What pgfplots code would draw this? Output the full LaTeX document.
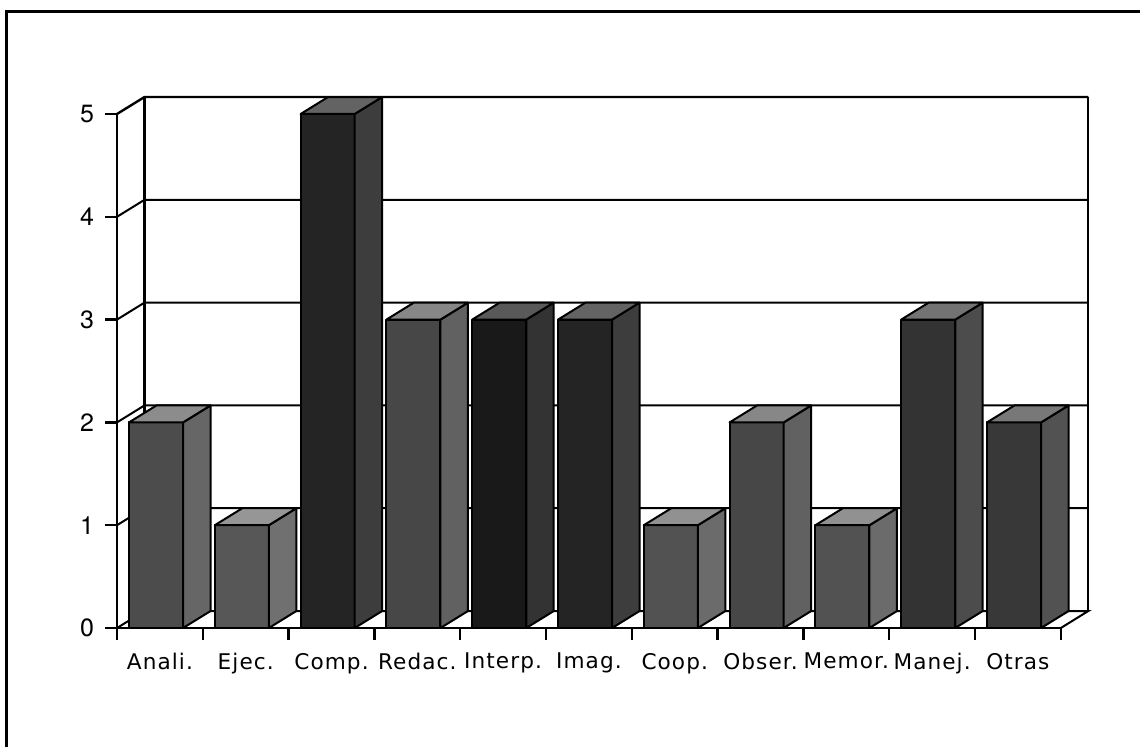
\documentclass[border=0pt]{standalone}
\usepackage{pgfplots}
\pgfplotsset{compat=1.18}
\usepackage{fontspec}
\setmainfont{TeX Gyre Heros}
\newfontfamily\lab{DejaVu Sans}[LetterSpace=5.0]
\pgfplotsset{bar edge/.style={draw=black, line width=1pt, line join=round}}
\newcommand\tdbar[3]{%
\pgfmathsetmacro\xa{#1+0.14}%
\pgfmathsetmacro\xb{#1+0.77}%
\pgfmathsetmacro\xc{#1+0.77+0.32}%
\pgfmathsetmacro\xd{#1+0.14+0.32}%
\pgfmathsetmacro\yt{#2+0.165}%
\pgfmathtruncatemacro\cs{#3-10}%
\pgfmathtruncatemacro\ct{#3-25}%
\edef\tmp{%
\noexpand\addplot[bar edge, fill=black!#3] coordinates {(\xa,0) (\xb,0) (\xb,#2) (\xa,#2)} -- cycle;
\noexpand\addplot[bar edge, fill=black!\cs] coordinates {(\xb,0) (\xc,0.165) (\xc,\yt) (\xb,#2)} -- cycle;
\noexpand\addplot[bar edge, fill=black!\ct] coordinates {(\xa,#2) (\xb,#2) (\xc,\yt) (\xd,\yt)} -- cycle;
}\tmp}
\begin{document}
\begin{tikzpicture}
\useasboundingbox (-58.5pt,-59pt) rectangle (511.5pt,314pt);
\draw[line width=1.5pt] (-55pt,-60pt) -- (-55pt,308.5pt) -- (512pt,308.5pt);
\begin{axis}[
  at={(0,0)}, anchor=south west,
  x=42.9pt, y=51.4pt,
  xmin=0, xmax=11, ymin=0, ymax=5,
  clip=false,
  axis lines*=left,
  axis line style={line width=1.2pt},
  tick style={line width=1.2pt, black},
  tick align=outside,
  major tick length=6pt,
  xtick={0,...,11},
  x tick label as interval,
  xticklabels={Anali.,Ejec.,Comp.,Redac.,Interp.,Imag.,Coop.,Obser.,Memor.,Manej.,Otras},
  ytick={0,...,5},
  /pgf/number format/assume math mode=true,
  xticklabel style={font=\lab\fontsize{10.8}{12}\selectfont, yshift=-3pt},
  yticklabel style={font=\fontsize{12.5}{14}\selectfont, xshift=-2pt},
]
% walls and grid
\addplot[black, line width=1pt] coordinates {(0,0) (0.32,0.165) (11.32,0.165) (11,0)};
\addplot[black, line width=1pt] coordinates {(0,1) (0.32,1.165) (11.32,1.165)};
\addplot[black, line width=1pt] coordinates {(0,2) (0.32,2.165) (11.32,2.165)};
\addplot[black, line width=1pt] coordinates {(0,3) (0.32,3.165) (11.32,3.165)};
\addplot[black, line width=1pt] coordinates {(0,4) (0.32,4.165) (11.32,4.165)};
\addplot[black, line width=1.2pt] coordinates {(0,5) (0.32,5.165) (11.32,5.165)};
\addplot[black, line width=1.2pt] coordinates {(0.32,0.165) (0.32,5.165)};
\addplot[black, line width=1.2pt] coordinates {(11.32,0.165) (11.32,5.165)};
% bars
\tdbar{0}{2}{70}
\tdbar{1}{1}{66}
\tdbar{2}{5}{86}
\tdbar{3}{3}{72}
\tdbar{4}{3}{90}
\tdbar{5}{3}{86}
\tdbar{6}{1}{68}
\tdbar{7}{2}{72}
\tdbar{8}{1}{68}
\tdbar{9}{3}{80}
\tdbar{10}{2}{78}
\end{axis}
\end{tikzpicture}
\end{document}
